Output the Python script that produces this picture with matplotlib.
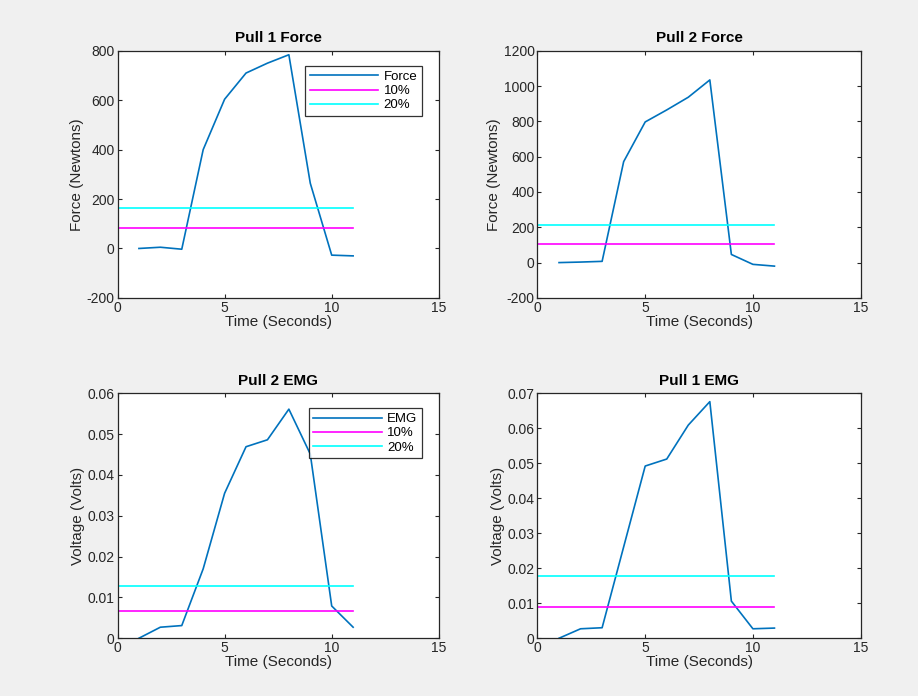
import numpy as np
import matplotlib
matplotlib.use('Agg')
import matplotlib.pyplot as plt

plt.rcParams['font.family'] = ['Liberation Sans', 'DejaVu Sans']
plt.rcParams['axes.unicode_minus'] = False

# sample times (s)
time = [1, 2, 3, 4, 5, 6, 7, 8, 9, 10, 11]

pull1_force = [0, 5, -3, 400, 604, 710, 750, 784, 264, -27, -30]
pull2_force = [0, 3, 7, 572, 797, 865, 937, 1035, 46, -10, -20]
pull2_emg = [0, 0.0027, 0.0031, 0.0170, 0.0355, 0.0469, 0.0486, 0.0561, 0.0451, 0.0079, 0.0027]
pull1_emg = [0, 0.0027, 0.0030, 0.0261, 0.0492, 0.0512, 0.0609, 0.0676, 0.0106, 0.0027, 0.0029]

# threshold levels (10% / 20%)
pull1_force_thr = [81, 163]
pull2_force_thr = [106, 212]
pull2_emg_thr = [0.0066, 0.0129]
pull1_emg_thr = [0.0090, 0.0179]

thr_x = [0, 11]

BLUE = '#0072BD'
TXT = '#262626'

panels = [
    ('Pull 1 Force', pull1_force, pull1_force_thr, 'Force', 'Force (Newtons)',
     (-200, 800), np.arange(-200, 801, 200), True),
    ('Pull 2 Force', pull2_force, pull2_force_thr, 'Force', 'Force (Newtons)',
     (-200, 1200), np.arange(-200, 1201, 200), False),
    ('Pull 2 EMG', pull2_emg, pull2_emg_thr, 'EMG', 'Voltage (Volts)',
     (0, 0.06), np.arange(0, 0.061, 0.01), True),
    ('Pull 1 EMG', pull1_emg, pull1_emg_thr, 'EMG', 'Voltage (Volts)',
     (0, 0.07), np.arange(0, 0.071, 0.01), False),
]

# axes rectangles in figure fractions
rects = [
    [0.128, 0.572, 0.350, 0.355],
    [0.5855, 0.572, 0.352, 0.355],
    [0.128, 0.083, 0.350, 0.352],
    [0.5855, 0.083, 0.352, 0.352],
]

fig = plt.figure(figsize=(9.18, 6.96), dpi=100)
fig.patch.set_facecolor('#f0f0f0')

for rect, (title, y, thr, name, ylabel, ylim, yticks, show_leg) in zip(rects, panels):
    ax = fig.add_axes(rect)
    ax.plot(time, y, color=BLUE, linewidth=1.2, label=name)
    ax.plot(thr_x, [thr[0], thr[0]], color='#ff00ff', linewidth=1.2, label='10%')
    ax.plot(thr_x, [thr[1], thr[1]], color='#00ffff', linewidth=1.2, label='20%')
    ax.set_xlim(0, 15)
    ax.set_ylim(*ylim)
    ax.set_xticks([0, 5, 10, 15])
    ax.set_yticks(yticks)
    if ylim[1] < 1:
        ax.set_yticklabels(['0'] + ['%.2f' % v for v in yticks[1:]])
    ax.set_title(title, fontsize=11, fontweight='bold', color='black', pad=6)
    ax.set_xlabel('Time (Seconds)', fontsize=11, color=TXT, labelpad=0)
    ax.set_ylabel(ylabel, fontsize=11, color=TXT, labelpad=2)
    ax.tick_params(direction='in', top=True, right=True, length=3, width=0.8,
                   labelsize=10, labelcolor=TXT, pad=2, color=TXT)
    for sp in ax.spines.values():
        sp.set_color(TXT)
        sp.set_linewidth(0.9)
    if show_leg:
        leg = ax.legend(loc='upper right', bbox_to_anchor=(0.948, 0.938), fontsize=9.5,
                        frameon=True, fancybox=False, edgecolor='black',
                        borderpad=0.35, labelspacing=0.15, handlelength=5.2,
                        handletextpad=0.4, borderaxespad=0)
        leg.get_frame().set_linewidth(0.9)

fig.savefig('out.png', dpi=100, facecolor=fig.get_facecolor())
